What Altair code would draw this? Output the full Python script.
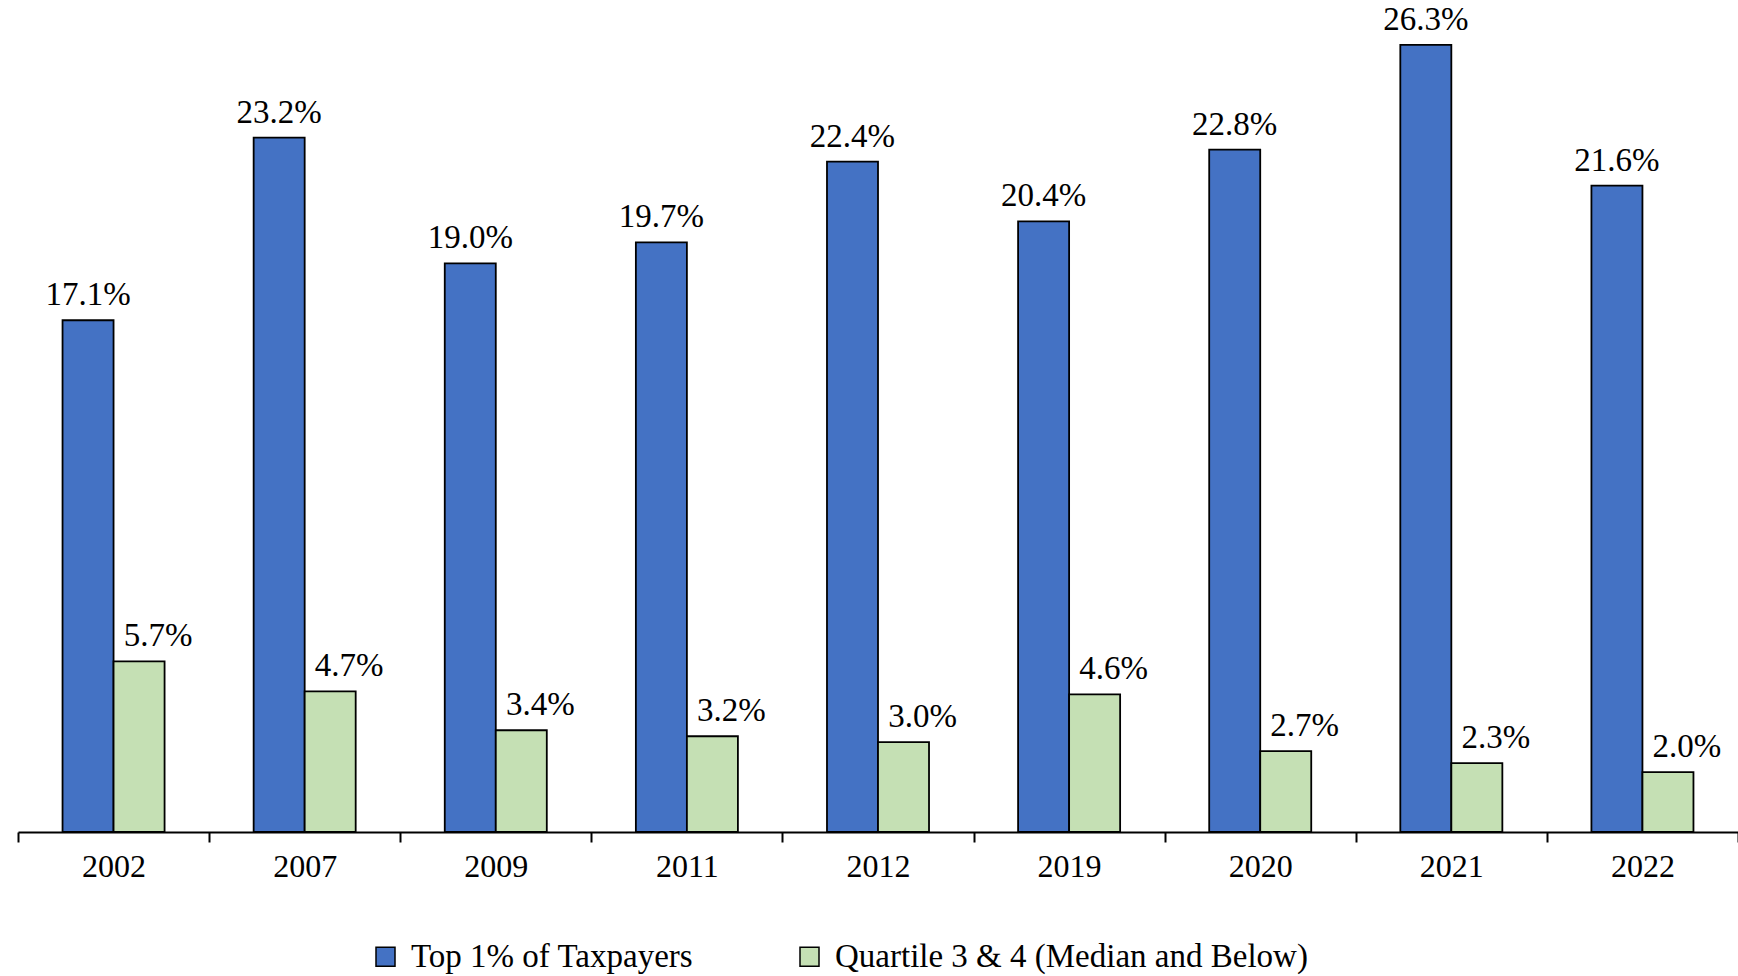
import altair as alt
import pandas as pd

years = ["2002", "2007", "2009", "2011", "2012", "2019", "2020", "2021", "2022"]
series = ["Top 1% of Taxpayers", "Quartile 3 & 4 (Median and Below)"]
top1 = [17.1, 23.2, 19.0, 19.7, 22.4, 20.4, 22.8, 26.3, 21.6]
q34 = [5.7, 4.7, 3.4, 3.2, 3.0, 4.6, 2.7, 2.3, 2.0]
colors = ["#4472C4", "#C5E0B4"]

rows = []
for yr, a, b in zip(years, top1, q34):
    rows.append({"year": yr, "series": series[0], "value": a, "label": f"{a:.1f}%"})
    rows.append({"year": yr, "series": series[1], "value": b, "label": f"{b:.1f}%"})
df = pd.DataFrame(rows)

FONT = "Liberation Serif"

x = alt.X(
    "year:N",
    sort=years,
    scale=alt.Scale(paddingInner=0, paddingOuter=0),
    axis=alt.Axis(
        title=None,
        labelAngle=0,
        labelFont=FONT,
        labelFontSize=32,
        labelColor="black",
        labelPadding=9,
        domainColor="black",
        domainWidth=2,
        tickColor="black",
        tickWidth=2,
        tickSize=10,
        tickBand="extent",
        grid=False,
    ),
)
xo = alt.XOffset(
    "series:N",
    sort=series,
    scale=alt.Scale(domain=series, paddingInner=0, paddingOuter=0.873),
)
y = alt.Y("value:Q", scale=alt.Scale(domain=[0, 27.8], nice=False, zero=True), axis=None)

base = alt.Chart(df).encode(x=x, xOffset=xo, y=y)

bars = base.mark_bar(stroke="black", strokeWidth=1.8).encode(
    color=alt.Color(
        "series:N",
        sort=series,
        scale=alt.Scale(domain=series, range=colors),
        legend=alt.Legend(
            title=None,
            orient="none",
            legendX=351,
            legendY=940,
            direction="horizontal",
            symbolType="square",
            symbolSize=361,
            symbolStrokeColor="black",
            symbolStrokeWidth=1.5,
            symbolOpacity=1,
            labelFont=FONT,
            labelFontSize=33,
            labelColor="black",
            labelOffset=9,
            labelLimit=1000,
            columnPadding=99,
            padding=0,
        ),
    )
)

lab1 = base.transform_filter(alt.datum.series == series[0]).mark_text(
    font=FONT, fontSize=33, color="black", baseline="alphabetic", dy=-15
).encode(text="label:N")

lab2 = base.transform_filter(alt.datum.series == series[1]).mark_text(
    font=FONT, fontSize=33, color="black", baseline="alphabetic", dy=-15, dx=19
).encode(text="label:N")

chart = (
    alt.layer(bars, lab1, lab2)
    .properties(
        width=1720,
        height=832,
        padding={"left": 18, "top": 0, "right": 0, "bottom": 144},
        autosize=alt.AutoSizeParams(type="none"),
    )
    .configure_view(stroke=None)
)

chart.save("out.html", embed_options={"renderer": "svg", "actions": False})
